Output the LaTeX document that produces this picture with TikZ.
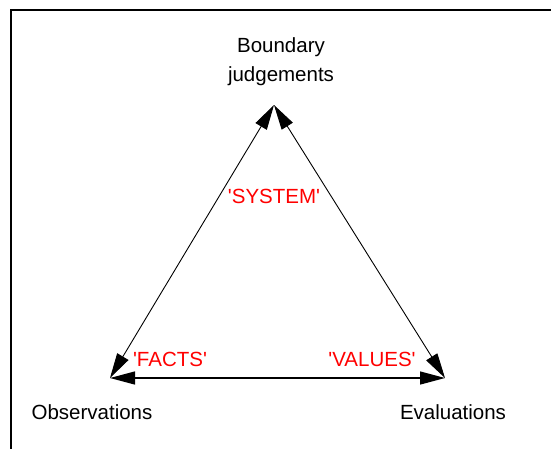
\documentclass[tikz,border=0pt]{standalone}
\usepackage{fontspec}
\setmainfont{Liberation Sans}
\usetikzlibrary{arrows.meta,positioning}

\begin{document}
\begin{tikzpicture}[x=1pt,y=-1pt]
        \tikzstyle{lbl}=[inner sep=0pt,font=\fontsize{20.5}{29}\selectfont]
        \tikzstyle{key}=[lbl,text=red]
        \tikzstyle{link}=[{Triangle[length=25pt,width=13pt]}-{Triangle[length=25pt,width=13pt]},line width=0.9pt]

        \clip (0,0) rectangle (551,448);
        \draw[line width=2pt] (11,10) rectangle (580,480);

        \coordinate (apex) at (274,105);
        \coordinate (obs) at (110,378);
        \coordinate (eval) at (445,378);

        \node [lbl,align=center] at (281,62) (boundary) {Boundary\\judgements};
        \node [lbl,anchor=base] at (92,419) (observations) {Observations};
        \node [lbl,anchor=base] at (453,419) (evaluations) {Evaluations};

        \node [key,anchor=base] at (274,203) (system) {\textquotesingle SYSTEM\textquotesingle};
        \node [key,anchor=base] at (170,366) (facts) {\textquotesingle FACTS\textquotesingle};
        \node [key,anchor=base] at (372,366) (values) {\textquotesingle VALUES\textquotesingle};

        \draw[link] (obs) to (apex);     % facts - system
        \draw[link] (eval) to (apex);    % values - system
        \draw[link,line width=1.3pt] (obs) to (eval);   % facts - values

\end{tikzpicture}
\end{document}
